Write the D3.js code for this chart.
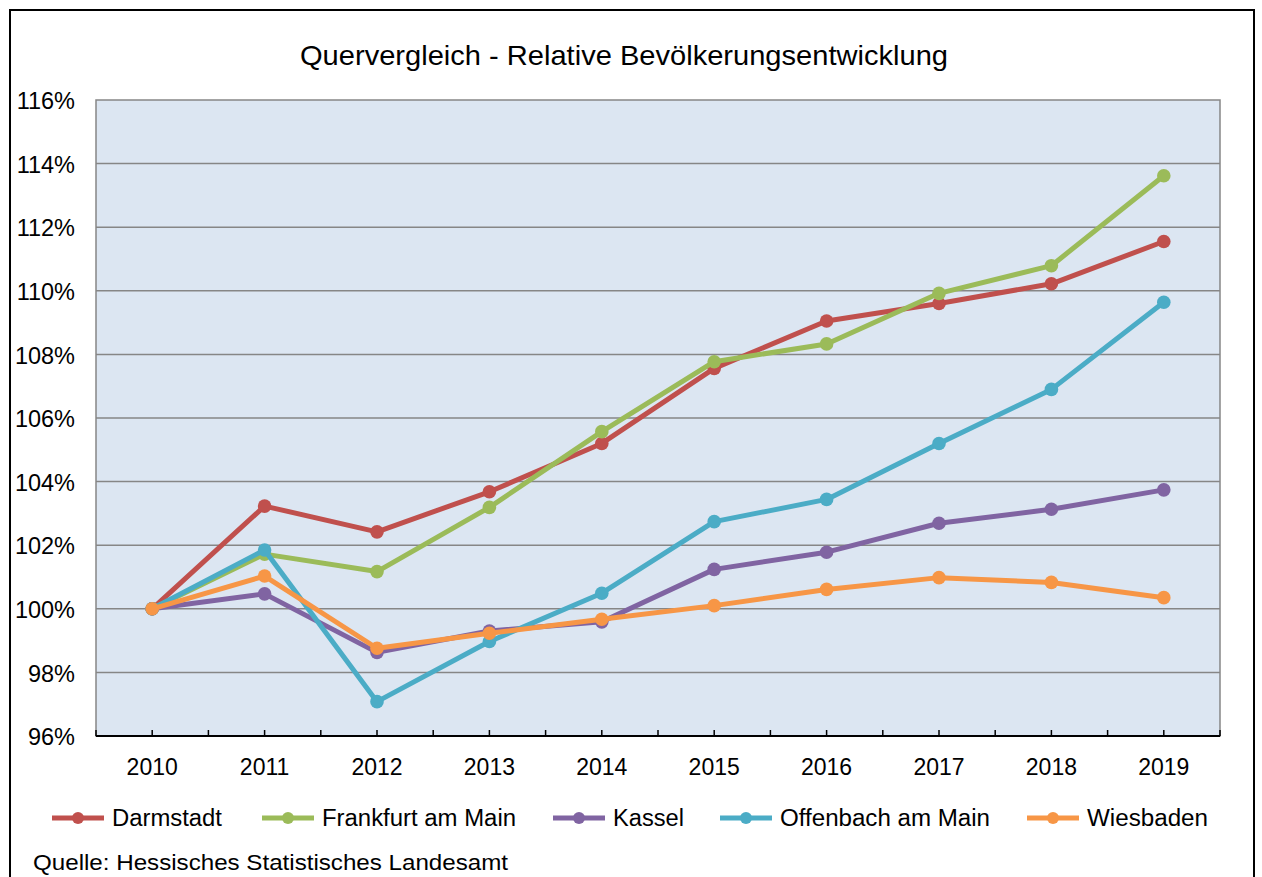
<!DOCTYPE html>
<html><head><meta charset="utf-8">
<script src="https://cdn.jsdelivr.net/npm/d3@7"></script>
<style>
html,body{margin:0;padding:0;background:#fff;}
svg{display:block;font-family:"Liberation Sans",Arial,sans-serif;}
</style></head><body>
<svg id="c" width="1262" height="877"></svg>
<script>
const years = ["2010","2011","2012","2013","2014","2015","2016","2017","2018","2019"];
const yTicks = [96,98,100,102,104,106,108,110,112,114,116];
const seriesNames = ["Darmstadt","Frankfurt am Main","Kassel","Offenbach am Main","Wiesbaden"];
const darmstadt = [100,103.23,102.42,103.68,105.20,107.56,109.05,109.60,110.22,111.55];
const frankfurt = [100,101.72,101.17,103.19,105.57,107.77,108.33,109.92,110.79,113.62];
const kassel    = [100,100.47,98.63,99.30,99.59,101.24,101.78,102.69,103.13,103.74];
const offenbach = [100,101.85,97.08,98.97,100.49,102.74,103.44,105.20,106.90,109.64];
const wiesbaden = [100,101.03,98.76,99.23,99.67,100.10,100.61,100.98,100.83,100.35];
const colors = ["#C0504D","#9BBB59","#8064A2","#4BACC6","#F79646"];
const title = "Quervergleich - Relative Bevölkerungsentwicklung";
const source = "Quelle: Hessisches Statistisches Landesamt";

const seriesValues = [darmstadt, frankfurt, kassel, offenbach, wiesbaden];
const svg = d3.select("#c");

// outer frame
svg.append("rect").attr("x",10).attr("y",10).attr("width",1244).attr("height",900)
  .attr("fill","#fff").attr("stroke","#000").attr("stroke-width",2);

const L=96, R=1220, T=100, B=736;
const x = d3.scaleBand().domain(years).range([L,R]).paddingInner(0).paddingOuter(0);
const y = d3.scaleLinear().domain([96,116]).range([B,T]);

svg.append("rect").attr("x",L).attr("y",T).attr("width",R-L).attr("height",B-T)
  .attr("fill","#DCE6F2").attr("stroke","#868686").attr("stroke-width",1.5);

// gridlines
svg.append("g").selectAll("line").data(yTicks.filter(v=>v>96 && v<116)).join("line")
  .attr("x1",L).attr("x2",R).attr("y1",d=>y(d)).attr("y2",d=>y(d))
  .attr("stroke","#868686").attr("stroke-width",1.5);

// y labels
svg.append("g").selectAll("text").data(yTicks).join("text")
  .attr("x",75).attr("y",d=>y(d)+1).attr("dy","0.35em").attr("text-anchor","end")
  .attr("font-size",23.5).attr("fill","#000").text(d=>d+"%");

// x axis
const xAxisG = svg.append("g").attr("transform",`translate(0,${B})`);
xAxisG.append("line").attr("x1",L).attr("x2",R).attr("stroke","#000").attr("stroke-width",2);
const halfTicks = [];
years.forEach((yr,i)=>{ halfTicks.push(x(yr)); halfTicks.push(x(yr)+x.bandwidth()/2); });
halfTicks.push(R);
xAxisG.selectAll("line.t").data(halfTicks).join("line").attr("class","t")
  .attr("x1",d=>d).attr("x2",d=>d).attr("y1",0).attr("y2",-6)
  .attr("stroke","#000").attr("stroke-width",1.5);
svg.append("g").selectAll("text").data(years).join("text")
  .attr("x",d=>x(d)+x.bandwidth()/2).attr("y",767).attr("dy","0.35em")
  .attr("text-anchor","middle").attr("font-size",23).attr("fill","#000").text(d=>d);

// title
svg.append("text").attr("x",624).attr("y",55).attr("dy","0.35em").attr("text-anchor","middle")
  .attr("font-size",28).attr("fill","#000")
  .attr("textLength",648).attr("lengthAdjust","spacingAndGlyphs").text(title);

// lines
const line = d3.line().x((d,i)=>x(years[i])+x.bandwidth()/2).y(d=>y(d));
seriesValues.forEach((vals,si)=>{
  const g = svg.append("g");
  g.append("path").datum(vals).attr("d",line).attr("fill","none")
    .attr("stroke",colors[si]).attr("stroke-width",5).attr("stroke-linejoin","round");
  g.selectAll("circle").data(vals).join("circle")
    .attr("cx",(d,i)=>x(years[i])+x.bandwidth()/2).attr("cy",d=>y(d)).attr("r",6.8)
    .attr("fill",colors[si]);
});

// legend
const legX = [52,262,553,720,1027];
const legTextW = [110,194,71,210,121];
const legY = 818;
seriesNames.forEach((n,i)=>{
  const g = svg.append("g");
  g.append("line").attr("x1",legX[i]).attr("x2",legX[i]+52).attr("y1",legY).attr("y2",legY)
    .attr("stroke",colors[i]).attr("stroke-width",5);
  g.append("circle").attr("cx",legX[i]+26).attr("cy",legY).attr("r",6).attr("fill",colors[i]);
  g.append("text").attr("x",legX[i]+60).attr("y",legY).attr("dy","0.35em")
    .attr("font-size",23).attr("fill","#000")
    .attr("textLength",legTextW[i]).attr("lengthAdjust","spacingAndGlyphs").text(n);
});

svg.append("text").attr("x",33).attr("y",862).attr("dy","0.35em").attr("font-size",22)
  .attr("fill","#000").attr("textLength",475).attr("lengthAdjust","spacingAndGlyphs").text(source);
</script>
</body></html>
